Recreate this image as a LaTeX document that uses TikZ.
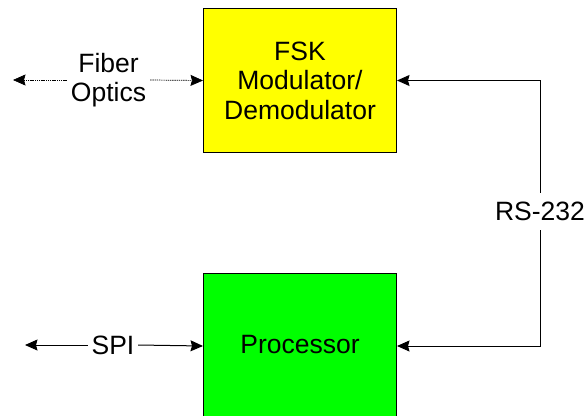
\documentclass[tikz,border=0pt]{standalone}
\usepackage{fontspec}
\setmainfont{Liberation Sans}
\usetikzlibrary{arrows.meta}
\definecolor{boxyellow}{HTML}{FFFF00}
\definecolor{boxgreen}{HTML}{00FF00}
\begin{document}
\begin{tikzpicture}[x=1pt,y=-1pt,
  every node/.style={font=\fontsize{26.5}{29.5}\selectfont, align=center},
  block/.style={draw=black, line width=1pt, minimum width=193pt, anchor=north west, inner sep=0pt},
  label/.style={fill=white, inner sep=0pt},
  link/.style={draw=black, line width=1pt, -{Stealth[length=12.5pt,width=11pt,inset=1.5pt]}},
  fiber/.style={link, line width=0.7pt, dash pattern=on 1.4pt off 0.8pt}]
  \useasboundingbox (0,0) rectangle (585,415);

  % blocks
  \node[block, fill=boxyellow, minimum height=144pt] (fsk) at (203,8)
    {FSK\\Modulator/\\Demodulator};
  \node[block, fill=boxgreen, minimum height=145pt] (proc) at (203,273) {};
  \node (proctext) at (300,345) {Processor};

  % side labels
  \node[label, minimum width=83pt, minimum height=20pt] (fo) at (108.5,80) {Fiber\\Optics};
  \node[label, minimum width=50pt, minimum height=20pt] (spi) at (113,345) {SPI};
  \node[label, minimum width=105pt, minimum height=37pt] (rs) at (540,211.5) {RS-232};
  \coordinate (foend) at (13,80);
  \coordinate (spiend) at (25,345);

  % connectors
  \draw[fiber] (fo.west) -- (foend);
  \draw[fiber] (fo.east) -- (fsk.west);
  \draw[link] (spi.west) -- (spiend);
  \draw[link] (spi.east) -- (proc.west);
  \draw[link] (rs.north) |- (fsk.east);
  \draw[link] (rs.south) |- (proc.east);
\end{tikzpicture}
\end{document}
